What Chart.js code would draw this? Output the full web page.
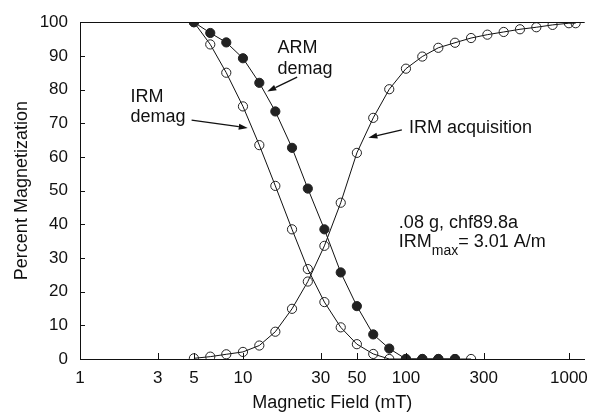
<!DOCTYPE html>
<html>
<head>
<meta charset="utf-8">
<script src="https://cdn.jsdelivr.net/npm/chart.js@4.4.0/dist/chart.umd.min.js"></script>
<style>
html,body{margin:0;padding:0;background:#fff;}
#wrap{width:597px;height:416px;position:relative;}
</style>
</head>
<body>
<div id="wrap"><canvas id="c" width="597" height="416"></canvas></div>
<script>
// ---- data ----
const armFields = [5, 6.3, 7.9, 10, 12.6, 15.8, 20, 25, 31.6, 39.8, 50, 63, 79, 100, 126, 158, 200];
const armValues = [100, 96.8, 94, 89.3, 82, 73.5, 62.7, 50.6, 38.5, 25.7, 15.7, 7.3, 3.1, 0, 0, 0, 0];

const irmDemagFields = [5, 6.3, 7.9, 10, 12.6, 15.8, 20, 25, 31.6, 39.8, 50, 63, 79, 100, 126, 158, 200, 251];
const irmDemagValues = [100, 93.4, 85, 75, 63.5, 51.4, 38.5, 26.7, 16.9, 9.4, 4.4, 1.5, 0, 0, 0, 0, 0, 0];

const irmAcqFields = [5, 6.3, 7.9, 10, 12.6, 15.8, 20, 25, 31.6, 39.8, 50, 63, 79, 100, 126, 158, 200, 251, 316, 398, 501, 631, 794, 1000, 1100];
const irmAcqValues = [0.2, 0.7, 1.4, 2.1, 4, 8.1, 14.9, 23, 33.6, 46.4, 61.2, 71.6, 80.1, 86.2, 89.8, 92.4, 93.9, 95.3, 96.3, 97.1, 97.9, 98.5, 99.2, 99.7, 99.7];

const xTickValues = [1, 3, 5, 10, 30, 50, 100, 300, 1000];
const yTickValues = [0, 10, 20, 30, 40, 50, 60, 70, 80, 90, 100];

const FONT = "'Liberation Sans', Arial, Helvetica, sans-serif";
const INK = '#111';

function pts(xs, ys) { return xs.map((x, i) => ({x: x, y: ys[i]})); }

// annotations in data coordinates
const labels = [
  {text: 'ARM', x: 16.3, y: 92.4},
  {text: 'demag', x: 16.3, y: 86.0},
  {text: 'IRM', x: 2.04, y: 77.9},
  {text: 'demag', x: 2.04, y: 71.8},
  {text: 'IRM acquisition', x: 104.4, y: 68.6},
  {text: '.08 g, chf89.8a', x: 90.5, y: 40.4}
];
const arrows = [
  {x1: 21.5, y1: 83.7, x2: 14.1, y2: 79.4},
  {x1: 4.84, y1: 70.9, x2: 10.7, y2: 68.6},
  {x1: 94.4, y1: 68.0, x2: 58.8, y2: 65.7}
];

const annotPlugin = {
  id: 'annot',
  afterDraw(chart) {
    const ctx = chart.ctx, xs = chart.scales.x, ys = chart.scales.y, ca = chart.chartArea;
    ctx.save();
    // top frame line
    ctx.strokeStyle = INK; ctx.lineWidth = 1;
    ctx.beginPath(); ctx.moveTo(ca.left, Math.round(ca.top) + 0.5); ctx.lineTo(ca.right, Math.round(ca.top) + 0.5); ctx.stroke();
    // inward ticks
    ctx.beginPath();
    yTickValues.forEach(v => {
      const py = Math.round(ys.getPixelForValue(v)) + 0.5;
      ctx.moveTo(ca.left, py); ctx.lineTo(ca.left + 5, py);
    });
    xTickValues.forEach(v => {
      const px = Math.round(xs.getPixelForValue(v)) + 0.5;
      ctx.moveTo(px, ca.bottom); ctx.lineTo(px, ca.bottom - 6);
    });
    ctx.stroke();
    // texts
    ctx.fillStyle = INK;
    ctx.font = '18px ' + FONT;
    ctx.textAlign = 'left'; ctx.textBaseline = 'middle';
    labels.forEach(l => ctx.fillText(l.text, xs.getPixelForValue(l.x), ys.getPixelForValue(l.y)));
    // IRMmax = 3.01 A/m
    let px = xs.getPixelForValue(90.5), py = ys.getPixelForValue(34.6);
    ctx.fillText('IRM', px, py);
    px += ctx.measureText('IRM').width;
    ctx.font = '14px ' + FONT;
    ctx.fillText('max', px, py + 9);
    px += ctx.measureText('max').width;
    ctx.font = '18px ' + FONT;
    ctx.fillText('= 3.01 A/m', px, py);
    // arrows
    ctx.lineWidth = 1.3;
    arrows.forEach(a => {
      const x1 = xs.getPixelForValue(a.x1), y1 = ys.getPixelForValue(a.y1);
      const x2 = xs.getPixelForValue(a.x2), y2 = ys.getPixelForValue(a.y2);
      const ang = Math.atan2(y2 - y1, x2 - x1);
      const hl = 9, hw = 3;
      const bx = x2 - hl * Math.cos(ang), by = y2 - hl * Math.sin(ang);
      ctx.beginPath(); ctx.moveTo(x1, y1); ctx.lineTo(bx, by); ctx.stroke();
      ctx.beginPath();
      ctx.moveTo(x2, y2);
      ctx.lineTo(bx + hw * Math.sin(ang), by - hw * Math.cos(ang));
      ctx.lineTo(bx - hw * Math.sin(ang), by + hw * Math.cos(ang));
      ctx.closePath(); ctx.fill();
    });
    ctx.restore();
  }
};

const common = {
  borderColor: INK, borderWidth: 1, tension: 0,
  pointRadius: 4.6, pointBorderWidth: 1, pointBorderColor: '#222',
  pointHoverRadius: 4.6
};

new Chart(document.getElementById('c'), {
  type: 'line',
  data: {
    datasets: [
      Object.assign({label: 'ARM demag', data: pts(armFields, armValues), pointBackgroundColor: '#222'}, common),
      Object.assign({label: 'IRM demag', data: pts(irmDemagFields, irmDemagValues), pointBackgroundColor: 'rgba(255,255,255,0)'}, common),
      Object.assign({label: 'IRM acquisition', data: pts(irmAcqFields, irmAcqValues), pointBackgroundColor: 'rgba(255,255,255,0)'}, common)
    ]
  },
  options: {
    responsive: false, animation: false, devicePixelRatio: 1,
    layout: {padding: {left: 0, right: 6, top: 15, bottom: 0}},
    plugins: {legend: {display: false}, tooltip: {enabled: false}},
    elements: {point: {hitRadius: 0}},
    scales: {
      x: {
        type: 'logarithmic', min: 1, max: 1250,
        afterBuildTicks: s => { s.ticks = xTickValues.map(v => ({value: v})); },
        afterFit: s => { s.height = 57; },
        grid: {display: false, drawTicks: false},
        border: {display: true, color: INK, width: 1},
        ticks: {autoSkip: false, maxRotation: 0, padding: 9, color: INK, font: {family: FONT, size: 17},
          callback: v => String(v)},
        title: {display: true, text: 'Magnetic Field (mT)', color: INK, font: {family: FONT, size: 18, lineHeight: 1.2}, padding: {top: 0, bottom: 2}}
      },
      y: {
        type: 'linear', min: 0, max: 100,
        afterBuildTicks: s => { s.ticks = yTickValues.map(v => ({value: v})); },
        afterFit: s => { s.width = 80; },
        grid: {display: false, drawTicks: false},
        border: {display: true, color: INK, width: 1},
        ticks: {autoSkip: false, padding: 12, color: INK, font: {family: FONT, size: 17}},
        title: {display: true, text: 'Percent Magnetization', color: INK, font: {family: FONT, size: 18, lineHeight: 1.2}, padding: {top: 11, bottom: 0}}
      }
    }
  },
  plugins: [annotPlugin]
});
</script>
</body>
</html>
